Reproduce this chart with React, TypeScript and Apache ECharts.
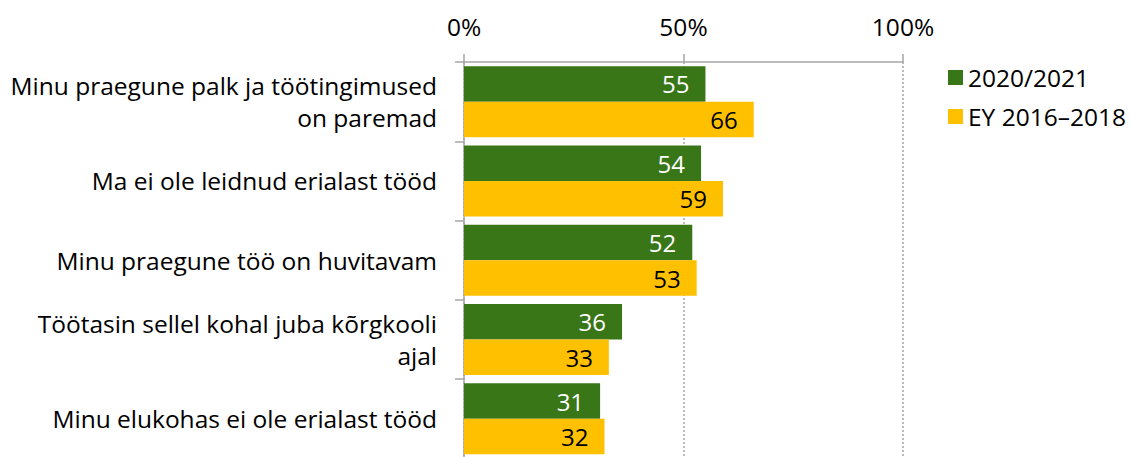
import React, { useEffect, useRef } from "react";
import * as echarts from "echarts";

const categories = [
  "Minu praegune palk ja töötingimused\non paremad",
  "Ma ei ole leidnud erialast tööd",
  "Minu praegune töö on huvitavam",
  "Töötasin sellel kohal juba kõrgkooli\najal",
  "Minu elukohas ei ole erialast tööd",
];
const seriesNames = ["2020/2021", "EY 2016–2018"];
const values2020 = [55, 54, 52, 36, 31];
const valuesEY = [66, 59, 53, 33, 32];
const xTicks = [0, 50, 100];

const FONT = "Open Sans";

export default function App() {
  const ref = useRef<HTMLDivElement>(null);
  useEffect(() => {
    if (!ref.current) return;
    const chart = echarts.init(ref.current, null, { renderer: "svg" });
    chart.setOption({
      animation: false,
      textStyle: { fontFamily: FONT },
      legend: {
        orient: "vertical",
        left: 943,
        top: 60,
        icon: "rect",
        itemWidth: 15,
        itemHeight: 15,
        itemGap: 14,
        textStyle: { fontFamily: FONT, fontSize: 24.5, color: "#000" },
        data: seriesNames,
      },
      grid: { left: 464, top: 62, width: 439, height: 396.5 },
      xAxis: {
        type: "value",
        position: "top",
        min: xTicks[0],
        max: xTicks[xTicks.length - 1],
        interval: 50,
        axisLine: { show: true, lineStyle: { color: "#a6a6a6", width: 1.5 } },
        axisTick: { show: true, inside: false, length: 8, lineStyle: { color: "#a6a6a6", width: 1.5 } },
        axisLabel: {
          formatter: (v: number) => v + "%",
          fontFamily: FONT,
          fontSize: 24.5,
          color: "#000",
          margin: 23,
        },
        splitLine: { show: true, lineStyle: { color: "#a6a6a6", type: [2, 2], width: 1.5 } },
      },
      yAxis: {
        type: "category",
        inverse: true,
        data: categories,
        axisLine: { show: true, lineStyle: { color: "#a6a6a6", width: 1.5 } },
        axisTick: { show: true, length: 9, lineStyle: { color: "#a6a6a6", width: 1.5 } },
        axisLabel: {
          fontFamily: FONT,
          fontSize: 24.5,
          color: "#000",
          margin: 27,
          lineHeight: 32,
          align: "right",
        },
      },
      series: [
        {
          name: seriesNames[0],
          type: "bar",
          data: values2020,
          barWidth: 35.5,
          barGap: "0%",
          itemStyle: { color: "#387618" },
          label: {
            show: true,
            position: "insideRight",
            distance: 16,
            color: "#fff",
            fontFamily: FONT,
            fontSize: 24,
          },
        },
        {
          name: seriesNames[1],
          type: "bar",
          data: valuesEY,
          barWidth: 35.5,
          barGap: "0%",
          itemStyle: { color: "#ffc000" },
          label: {
            show: true,
            position: "insideRight",
            distance: 16,
            color: "#000",
            fontFamily: FONT,
            fontSize: 24,
          },
        },
      ],
    });
    return () => chart.dispose();
  }, []);
  return (
    <div
      ref={ref}
      style={{ position: "absolute", left: 0, top: 0, width: 1131, height: 460, background: "#fff" }}
    />
  );
}
